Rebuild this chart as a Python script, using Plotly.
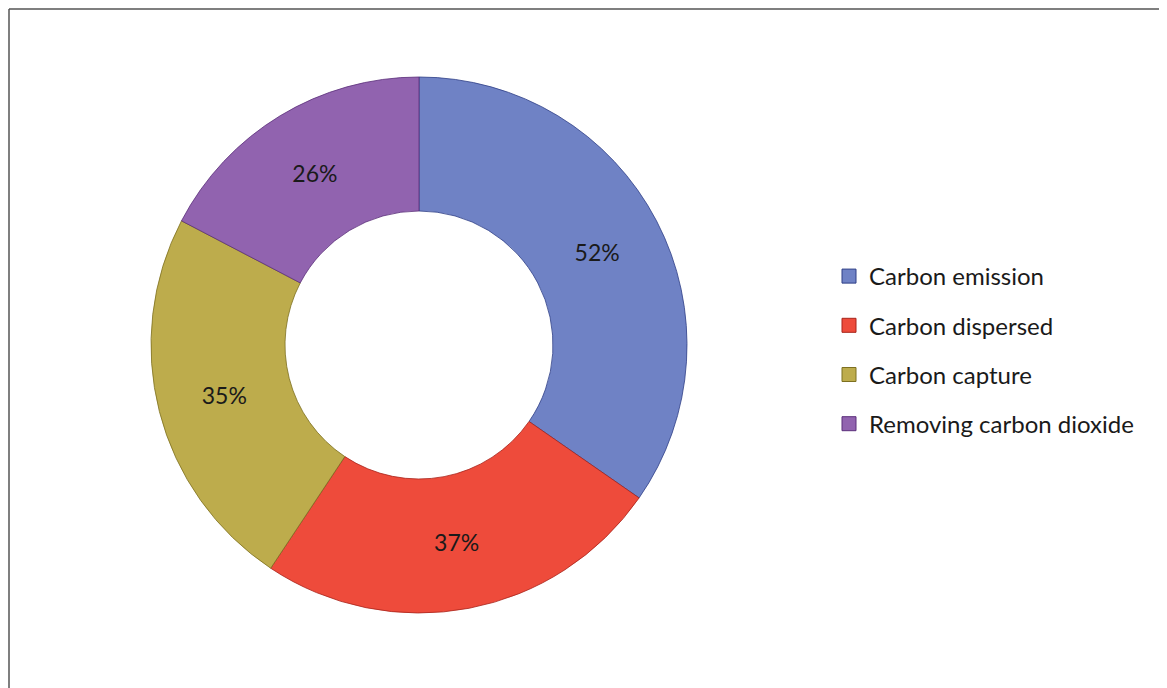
import plotly.graph_objects as go

categories = ["Carbon emission", "Carbon dispersed", "Carbon capture", "Removing carbon dioxide"]
values = [52, 37, 35, 26]
value_labels = ["52%", "37%", "35%", "26%"]
colors = ["#6F82C5", "#EE4B3B", "#BDAC4C", "#9163AF"]
edge_colors = ["#2E3F86", "#A8231A", "#7D7020", "#5A2F7A"]

OFF = 8  # page body margin
W, H = 1167 - OFF, 688 - OFF
font_family = "Lato, 'Open Sans', sans-serif"


def px_x(x):
    return (x - OFF) / W


def px_y(y):
    return 1 - (y - OFF) / H


fig = go.Figure()
fig.add_trace(go.Pie(
    labels=categories,
    values=values,
    text=value_labels,
    textinfo="text",
    textposition="inside",
    insidetextorientation="horizontal",
    hole=0.5,
    sort=False,
    direction="clockwise",
    rotation=0,
    marker=dict(colors=colors, line=dict(color=edge_colors, width=0.8)),
    textfont=dict(size=23, color="#1a1a1a", family=font_family),
    showlegend=False,
    domain=dict(x=[px_x(151), px_x(687)], y=[px_y(613), px_y(77)]),
))

for i, (cat, col, ec) in enumerate(zip(categories, colors, edge_colors)):
    fig.add_trace(go.Scatter(
        x=[None], y=[None], mode="markers", name=cat,
        marker=dict(symbol="square", size=14, color=col, line=dict(color=ec, width=1)),
        legendgroup=f"g{i}", showlegend=True,
    ))

frame_line = dict(color="#555555", width=1.5)
fig.update_layout(
    width=W, height=H,
    margin=dict(l=0, r=0, t=0, b=0),
    paper_bgcolor="white", plot_bgcolor="white",
    xaxis=dict(visible=False), yaxis=dict(visible=False),
    legend=dict(
        x=px_x(829), y=px_y(350), xanchor="left", yanchor="middle",
        font=dict(size=24, color="#1a1a1a", family=font_family),
        tracegroupgap=15, itemsizing="trace", bgcolor="rgba(0,0,0,0)",
    ),
    shapes=[
        dict(type="line", xref="paper", yref="paper",
             x0=px_x(9), x1=1.0, y0=px_y(9), y1=px_y(9), line=frame_line),
        dict(type="line", xref="paper", yref="paper",
             x0=px_x(9), x1=px_x(9), y0=0, y1=px_y(9), line=frame_line),
    ],
)

fig.write_html("out.html")
